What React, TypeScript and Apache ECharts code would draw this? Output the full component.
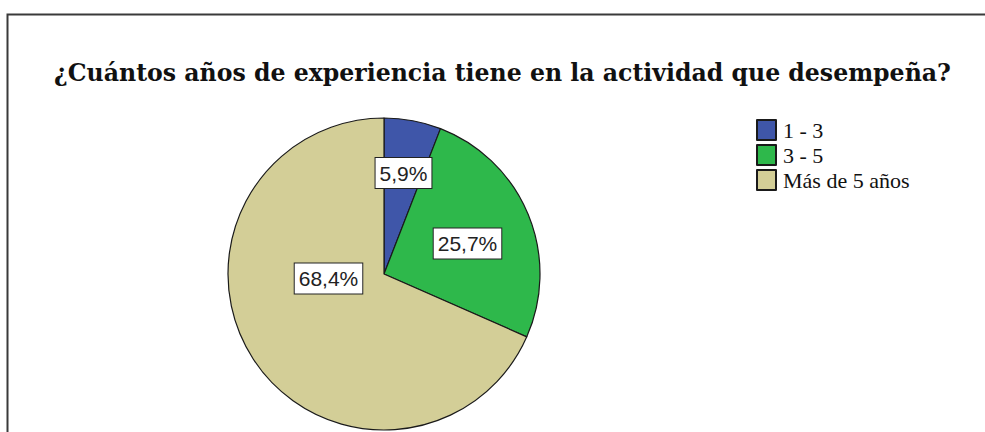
import React, { useEffect, useRef } from "react";
import * as echarts from "echarts";

const titleText = "¿Cuántos años de experiencia tiene en la actividad que desempeña?";
const categories = ["1 - 3", "3 - 5", "Más de 5 años"];
const percents = [5.9, 25.7, 68.4];
const colors = ["#3F56A9", "#2EB84B", "#D3CE97"];

// label anchor offsets relative to pie centre (layout only)
const labelOffsets = [
  [19.5, -101],
  [83.5, -30.5],
  [-55.5, 4.5],
];

const CX = 384;
const CY = 274;
const R = 156;

export default function App() {
  const ref = useRef<HTMLDivElement>(null);
  useEffect(() => {
    if (!ref.current) return;
    const chart = echarts.init(ref.current, undefined, { renderer: "svg" });
    chart.setOption({
      animation: false,
      backgroundColor: "#ffffff",
      title: {
        text: titleText,
        left: 54,
        top: 61,
        padding: 0,
        textStyle: {
          fontFamily: "DejaVu Serif",
          fontWeight: "bold",
          fontSize: 23.6,
          color: "#111111",
        },
      },
      legend: {
        orient: "vertical",
        left: 756,
        top: 119,
        padding: 0,
        itemWidth: 19,
        itemHeight: 20,
        itemGap: 3,
        icon: "rect",
        data: categories,
        textStyle: {
          fontFamily: "Liberation Serif",
          fontSize: 22,
          lineHeight: 20,
          color: "#111111",
          padding: [0, 0, 0, 2],
        },
      },
      graphic: [
        {
          type: "polyline",
          shape: { points: [[7.5, 440], [7.5, 14.5], [990, 14.5]] },
          style: { stroke: "#3a3a3a", lineWidth: 2, fill: "none" },
          z: 100,
        },
      ],
      series: [
        {
          type: "pie",
          center: [CX, CY],
          radius: R,
          startAngle: 90,
          clockwise: true,
          avoidLabelOverlap: false,
          itemStyle: { borderColor: "#1a1a1a", borderWidth: 1.2 },
          label: {
            show: true,
            position: "inside",
            formatter: (p: any) => p.value.toFixed(1).replace(".", ",") + "%",
            fontFamily: "Liberation Sans",
            fontSize: 21,
            color: "#222222",
            backgroundColor: "#ffffff",
            borderColor: "#222222",
            borderWidth: 1,
            padding: [5, 4, 4, 4],
          },
          labelLine: { show: false },
          labelLayout: (params: any) => {
            const o = labelOffsets[params.dataIndex];
            return {
              x: CX + o[0],
              y: CY + o[1],
              align: "center",
              verticalAlign: "middle",
            };
          },
          emphasis: { disabled: true },
          data: categories.map((c, i) => ({
            name: c,
            value: percents[i],
            itemStyle: { color: colors[i] },
          })),
        },
      ],
    });
    return () => chart.dispose();
  }, []);
  return (
    <div
      ref={ref}
      style={{ position: "fixed", left: 0, top: 0, width: 985, height: 432 }}
    />
  );
}
